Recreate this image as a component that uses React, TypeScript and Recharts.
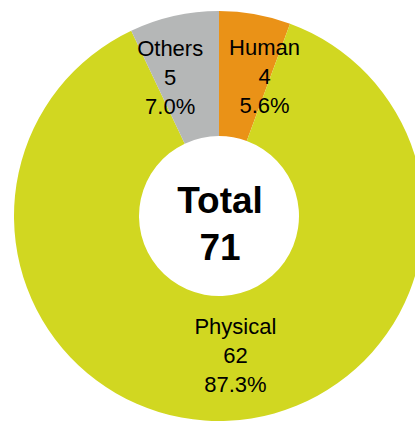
import { Cell, Label, Pie, PieChart } from "recharts";

const categories = ["Human", "Physical", "Others"];
const counts = [4, 62, 5];
const centerTitle = "Total";

const COLORS = ["#EA9217", "#D1D721", "#B5B7B7"];
// label nudges (px) from the default mid-angle spot, to mimic the spreadsheet layout
const NUDGE: [number, number][] = [
  [20, 3],
  [10, -6],
  [-17, 2],
];

const CX = 219;
const CY = 216;

const total = counts.reduce((s, v) => s + v, 0);
const data = categories.map((name, i) => ({ name, value: counts[i] }));

const FONT = "'Liberation Sans', Arial, sans-serif";
const RAD = Math.PI / 180;

function SliceLabel(props: any) {
  const { cx, cy, midAngle, index, name, value } = props;
  const r = 145;
  const x = cx + r * Math.cos(-midAngle * RAD) + NUDGE[index][0];
  const y = cy + r * Math.sin(-midAngle * RAD) + NUDGE[index][1];
  const pct = ((value / total) * 100).toFixed(1) + "%";
  return (
    <text x={x} y={y} textAnchor="middle" fontFamily={FONT} fontSize={22} fill="#000">
      <tspan x={x} dy={-29 + 8}>{name}</tspan>
      <tspan x={x} dy={29}>{value}</tspan>
      <tspan x={x} dy={29}>{pct}</tspan>
    </text>
  );
}

function CenterLabel() {
  const x = CX + 1;
  return (
    <text x={x} y={CY} textAnchor="middle" fontFamily={FONT} fontSize={37} fontWeight="bold" fill="#000">
      <tspan x={x} dy={-3}>{centerTitle}</tspan>
      <tspan x={x} dy={47}>{total}</tspan>
    </text>
  );
}

export default function App() {
  return (
    <div style={{ position: "fixed", left: 0, top: 0, width: 415, height: 422, background: "#fff" }}>
      <PieChart width={415} height={422} margin={{ top: 0, right: 0, bottom: 0, left: 0 }}>
        <Pie
          data={data}
          dataKey="value"
          nameKey="name"
          cx={CX}
          cy={CY}
          innerRadius={80}
          outerRadius={205}
          startAngle={90}
          endAngle={-270}
          stroke="none"
          label={SliceLabel}
          labelLine={false}
          isAnimationActive={false}
        >
          {data.map((d, i) => (
            <Cell key={d.name} fill={COLORS[i]} />
          ))}
          <Label position="center" content={CenterLabel} />
        </Pie>
      </PieChart>
    </div>
  );
}
